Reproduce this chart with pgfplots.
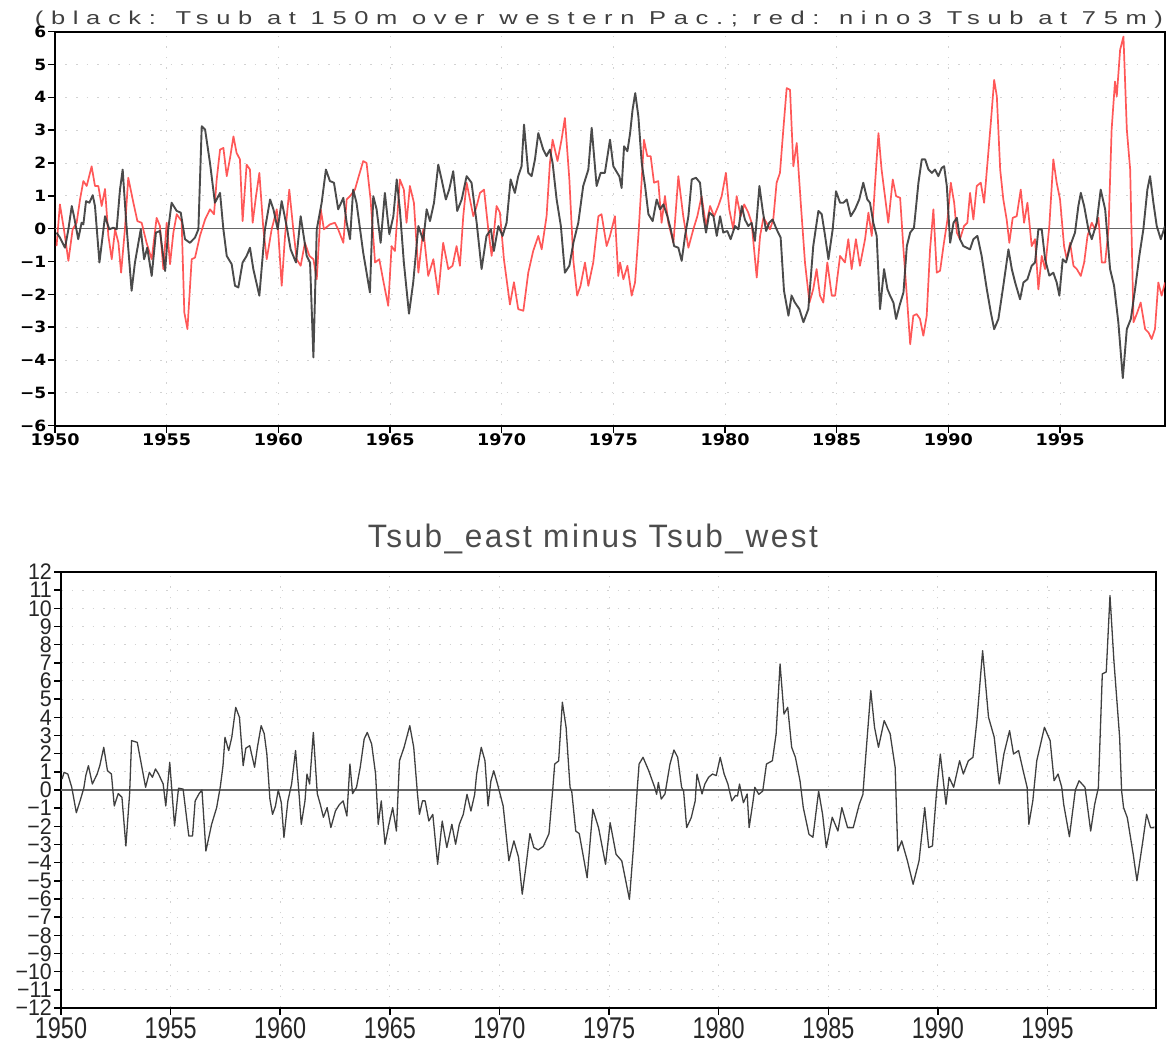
\documentclass[border=0pt]{standalone}
\usepackage{fontspec}
\usepackage{graphicx}
\usepackage{pgfplots}
\usepackage{pgfplotstable}
\pgfplotsset{compat=1.18}
\setmainfont{Liberation Sans}
\newfontfamily\tickfont{DejaVu Sans}
\newfontfamily\spaced[LetterSpace=30]{Liberation Sans}
\newfontfamily\spacedb[LetterSpace=8]{Liberation Sans}
\definecolor{tred}{RGB}{255,70,70}
\definecolor{tblk}{RGB}{55,55,55}
\newcommand\tl[1]{\scalebox{1.1}[1]{\tickfont\bfseries #1}}
\newcommand\bl[1]{\scalebox{0.78}[1]{#1}}
\newcommand\yl[1]{\scalebox{0.95}[1]{#1}}

\pgfplotstableread{
x y
1950.07 -0.12
1950.22 -0.27
1950.45 -0.58
1950.60 -0.02
1950.75 0.69
1950.85 0.38
1951.04 -0.32
1951.19 0.18
1951.27 0.13
1951.39 0.84
1951.54 0.79
1951.69 1.02
1951.79 0.69
1951.99 -1.03
1952.24 0.38
1952.43 -0.02
1952.61 0.03
1952.76 -0.02
1952.91 1.19
1953.03 1.80
1953.18 0.28
1953.43 -1.89
1953.58 -1.03
1953.84 -0.02
1953.99 -0.93
1954.13 -0.58
1954.33 -1.44
1954.52 -0.12
1954.70 -0.07
1954.93 -1.29
1955.07 -0.02
1955.22 0.79
1955.45 0.54
1955.63 0.49
1955.82 -0.32
1956.04 -0.43
1956.27 -0.27
1956.42 -0.02
1956.57 3.12
1956.72 3.02
1956.94 2.00
1957.16 0.79
1957.39 1.09
1957.54 -0.02
1957.69 -0.83
1957.91 -1.08
1958.06 -1.74
1958.21 -1.79
1958.40 -1.03
1958.58 -0.83
1958.73 -0.58
1958.88 -1.23
1959.15 -2.04
1959.40 -0.02
1959.63 0.89
1959.78 0.59
1959.97 -0.02
1960.15 0.84
1960.37 0.08
1960.55 -0.63
1960.79 -1.03
1961.00 0.38
1961.27 -0.83
1961.42 -1.03
1961.57 -3.92
1961.72 -0.02
1961.94 0.79
1962.13 1.80
1962.31 1.45
1962.49 1.40
1962.68 0.59
1962.91 0.94
1963.06 0.18
1963.21 -0.32
1963.35 1.19
1963.50 0.79
1963.80 -0.73
1964.10 -1.94
1964.25 0.99
1964.40 0.59
1964.58 -0.43
1964.77 1.09
1964.97 -0.17
1965.15 0.38
1965.30 1.50
1965.44 0.59
1965.62 -1.03
1965.85 -2.59
1966.04 -1.63
1966.27 0.08
1966.49 -0.37
1966.64 0.59
1966.79 0.23
1966.97 0.79
1967.16 1.95
1967.31 1.50
1967.50 0.89
1967.65 1.19
1967.83 1.75
1968.01 0.54
1968.21 0.89
1968.43 1.60
1968.65 1.40
1968.88 0.18
1969.10 -1.23
1969.32 -0.22
1969.52 -0.02
1969.65 -0.68
1969.85 0.08
1970.04 -0.22
1970.22 0.18
1970.40 1.50
1970.59 1.09
1970.74 1.60
1970.89 1.90
1971.00 3.17
1971.19 1.70
1971.34 1.60
1971.49 2.11
1971.64 2.91
1971.86 2.41
1972.01 2.21
1972.16 2.41
1972.28 2.00
1972.46 0.89
1972.65 0.08
1972.83 -1.34
1973.03 -1.13
1973.21 -0.43
1973.43 0.18
1973.65 1.30
1973.88 1.80
1974.03 3.07
1974.25 1.30
1974.43 1.70
1974.62 1.70
1974.85 2.71
1975.00 1.90
1975.27 1.59
1975.37 1.24
1975.48 2.51
1975.63 2.36
1975.75 2.91
1975.86 3.62
1975.98 4.13
1976.12 3.42
1976.27 2.00
1976.42 1.30
1976.57 0.44
1976.76 0.23
1976.94 0.89
1977.09 0.59
1977.24 0.74
1977.42 0.38
1977.57 -0.02
1977.72 -0.53
1977.91 -0.58
1978.06 -0.98
1978.21 -0.22
1978.36 0.38
1978.51 1.50
1978.70 1.55
1978.88 1.40
1979.03 0.38
1979.15 -0.12
1979.30 0.49
1979.48 0.38
1979.63 -0.22
1979.78 0.38
1979.92 -0.12
1980.10 -0.07
1980.25 -0.32
1980.45 0.08
1980.60 -0.02
1980.75 0.69
1980.89 0.28
1981.04 0.08
1981.19 0.18
1981.34 -0.37
1981.54 1.30
1981.69 0.54
1981.84 -0.07
1981.98 0.18
1982.13 0.28
1982.31 -0.02
1982.49 -0.27
1982.64 -1.89
1982.84 -2.65
1982.98 -2.04
1983.13 -2.25
1983.33 -2.45
1983.51 -2.85
1983.73 -2.45
1983.95 -0.53
1984.18 0.54
1984.33 0.44
1984.48 -0.22
1984.63 -0.93
1984.82 -0.02
1984.97 1.14
1985.15 0.79
1985.30 0.79
1985.45 0.89
1985.63 0.38
1985.82 0.59
1986.01 0.89
1986.19 1.40
1986.37 0.89
1986.49 0.79
1986.64 0.18
1986.79 -0.22
1986.94 -2.45
1987.12 -1.23
1987.27 -1.84
1987.39 -2.04
1987.54 -2.25
1987.66 -2.75
1987.81 -2.35
1987.99 -1.94
1988.14 -0.53
1988.29 -0.12
1988.46 0.03
1988.66 1.40
1988.81 2.11
1988.96 2.11
1989.11 1.80
1989.26 1.70
1989.40 1.80
1989.55 1.60
1989.70 1.85
1989.81 1.90
1989.93 1.30
1990.08 -0.43
1990.23 0.18
1990.38 0.33
1990.52 -0.32
1990.67 -0.53
1990.82 -0.58
1990.97 -0.63
1991.12 -0.32
1991.30 -0.22
1991.49 -0.83
1991.72 -1.84
1991.90 -2.55
1992.05 -3.06
1992.24 -2.75
1992.46 -1.74
1992.69 -0.63
1992.84 -1.23
1992.99 -1.64
1993.21 -2.15
1993.36 -1.64
1993.54 -1.54
1993.73 -1.13
1993.88 -1.03
1994.03 -0.02
1994.18 -0.02
1994.33 -0.93
1994.52 -1.43
1994.70 -1.34
1994.85 -1.64
1994.97 -2.04
1995.12 -0.93
1995.27 -1.03
1995.45 -0.53
1995.67 -0.12
1995.82 0.69
1995.93 1.09
1996.08 0.69
1996.27 -0.02
1996.42 -0.32
1996.64 0.18
1996.82 1.19
1997.02 0.59
1997.24 -1.23
1997.42 -1.74
1997.61 -2.85
1997.81 -4.55
1997.99 -3.06
1998.17 -2.75
1998.36 -1.84
1998.55 -0.83
1998.73 -0.02
1998.91 1.19
1999.03 1.60
1999.18 0.79
1999.33 0.08
1999.51 -0.32
1999.70 0.08
}\blktop

\pgfplotstableread{
x y
1950.07 -0.53
1950.22 0.74
1950.40 -0.02
1950.60 -0.98
1950.79 -0.02
1950.97 0.18
1951.12 0.89
1951.27 1.45
1951.42 1.30
1951.64 1.90
1951.79 1.30
1951.94 1.30
1952.09 0.69
1952.24 1.21
1952.39 -0.22
1952.54 -0.93
1952.69 -0.02
1952.84 -0.43
1952.96 -1.34
1953.13 -0.02
1953.28 1.55
1953.51 0.79
1953.69 0.23
1953.88 0.18
1954.10 -0.43
1954.33 -0.93
1954.55 0.33
1954.70 0.08
1954.85 -1.23
1955.00 0.18
1955.15 -1.08
1955.30 -0.12
1955.45 0.44
1955.67 0.23
1955.79 -2.55
1955.93 -3.06
1956.12 -0.93
1956.27 -0.88
1956.49 -0.22
1956.72 0.28
1956.94 0.59
1957.12 0.44
1957.24 1.50
1957.39 2.41
1957.54 2.46
1957.69 1.60
1957.84 2.16
1957.99 2.81
1958.13 2.31
1958.28 2.11
1958.40 0.23
1958.58 1.95
1958.73 1.80
1958.85 0.18
1959.00 0.99
1959.15 1.70
1959.33 -0.02
1959.48 -0.93
1959.70 -0.02
1959.93 0.59
1960.15 -1.74
1960.30 -0.22
1960.49 1.19
1960.67 -0.02
1960.82 -0.93
1961.00 -1.13
1961.19 -0.43
1961.39 -0.83
1961.57 -0.93
1961.72 -1.54
1961.90 0.59
1962.04 -0.02
1962.31 0.13
1962.53 0.18
1962.68 -0.02
1962.91 -0.43
1963.06 0.89
1963.21 0.99
1963.43 1.19
1963.58 1.55
1963.80 2.06
1963.95 2.00
1964.13 0.89
1964.33 -1.03
1964.52 -0.93
1964.70 -1.59
1964.92 -2.35
1965.07 -0.53
1965.22 -0.68
1965.44 1.50
1965.62 1.19
1965.74 0.18
1965.89 1.30
1966.07 0.79
1966.27 -1.34
1966.49 -0.02
1966.71 -1.44
1966.94 -0.93
1967.16 -2.00
1967.38 -0.43
1967.61 -1.23
1967.80 -1.13
1967.98 -0.53
1968.13 -1.13
1968.28 0.38
1968.43 1.40
1968.58 0.89
1968.73 0.38
1968.88 0.69
1969.03 1.09
1969.21 1.19
1969.40 -0.02
1969.55 -0.83
1969.77 0.69
1969.92 0.49
1970.10 -0.93
1970.37 -2.31
1970.55 -1.63
1970.74 -2.45
1970.97 -2.50
1971.19 -1.34
1971.41 -0.68
1971.64 -0.22
1971.79 -0.63
1972.01 0.38
1972.16 2.00
1972.28 2.71
1972.50 2.06
1972.68 2.71
1972.83 3.37
1973.03 1.50
1973.21 -0.98
1973.38 -2.04
1973.53 -1.74
1973.73 -1.03
1973.88 -1.74
1974.10 -1.03
1974.33 0.38
1974.47 0.44
1974.70 -0.53
1974.85 -0.22
1975.07 0.38
1975.22 -1.44
1975.30 -1.03
1975.45 -1.54
1975.63 -1.13
1975.82 -2.04
1975.97 -1.64
1976.12 -0.22
1976.27 1.50
1976.37 2.71
1976.52 2.21
1976.67 2.21
1976.82 1.40
1977.01 1.45
1977.16 0.18
1977.31 0.99
1977.46 0.18
1977.69 -0.43
1977.91 1.60
1978.13 0.38
1978.36 -0.58
1978.58 -0.02
1978.76 0.38
1978.95 0.99
1979.15 0.08
1979.33 0.69
1979.51 0.38
1979.70 0.69
1979.85 0.99
1980.04 1.70
1980.19 0.59
1980.37 -0.02
1980.52 0.99
1980.70 0.38
1980.86 0.74
1981.04 0.49
1981.19 0.18
1981.42 -1.49
1981.57 -0.22
1981.72 0.33
1981.86 0.18
1982.01 -0.02
1982.16 0.28
1982.31 1.40
1982.46 1.70
1982.61 3.02
1982.76 4.28
1982.91 4.23
1983.06 1.90
1983.21 2.61
1983.39 0.79
1983.58 -1.03
1983.78 -2.25
1983.95 -1.84
1984.10 -1.23
1984.25 -2.04
1984.40 -2.25
1984.58 -1.03
1984.78 -2.04
1984.93 -2.04
1985.15 -0.83
1985.37 -1.03
1985.52 -0.32
1985.67 -1.23
1985.86 -0.32
1986.04 -1.13
1986.27 -0.32
1986.42 0.49
1986.57 -0.22
1986.72 1.40
1986.87 2.91
1987.01 1.80
1987.16 0.99
1987.31 0.18
1987.51 1.50
1987.66 0.99
1987.84 0.94
1987.99 -0.63
1988.14 -2.04
1988.29 -3.52
1988.43 -2.65
1988.58 -2.60
1988.73 -2.75
1988.88 -3.26
1989.03 -2.65
1989.18 -0.63
1989.33 0.59
1989.48 -1.34
1989.63 -1.28
1989.78 -0.53
1989.96 0.28
1990.11 1.40
1990.26 0.79
1990.38 -0.12
1990.52 -0.32
1990.70 0.08
1990.85 0.18
1990.97 1.09
1991.12 0.28
1991.27 1.30
1991.45 1.40
1991.60 0.79
1991.75 2.00
1991.90 3.22
1992.05 4.53
1992.17 4.03
1992.32 1.80
1992.46 0.89
1992.61 0.28
1992.73 -0.43
1992.88 0.33
1993.06 0.38
1993.24 1.19
1993.39 0.18
1993.54 0.79
1993.73 -0.53
1993.88 -0.32
1994.03 -1.85
1994.18 -0.83
1994.33 -1.23
1994.52 0.08
1994.70 2.11
1994.85 1.40
1995.00 0.89
1995.18 -0.53
1995.30 -0.93
1995.45 -0.43
1995.60 -1.13
1995.75 -1.23
1995.93 -1.44
1996.08 -1.03
1996.23 -0.22
1996.42 0.18
1996.57 -0.02
1996.72 0.33
1996.87 -1.03
1997.02 -1.03
1997.17 -0.02
1997.31 3.02
1997.46 4.48
1997.54 4.03
1997.69 5.45
1997.84 5.85
1997.99 3.02
1998.14 1.80
1998.29 -2.85
1998.46 -2.55
1998.61 -2.25
1998.81 -3.06
1998.96 -3.16
1999.10 -3.36
1999.25 -3.06
1999.40 -1.64
1999.55 -2.04
1999.70 -1.64
}\redtop

\pgfplotstableread{
x y
1950.05 0.6
1950.14 0.97
1950.31 0.88
1950.49 0.15
1950.70 -1.25
1950.87 -0.6
1951.04 0.1
1951.13 0.79
1951.25 1.34
1951.43 0.33
1951.65 0.88
1951.77 1.34
1951.95 2.35
1952.12 1.06
1952.30 0.88
1952.43 -0.88
1952.61 -0.2
1952.78 -0.4
1952.96 -3.08
1953.13 -0.2
1953.22 2.72
1953.48 2.62
1953.69 1.25
1953.86 0.15
1954.03 0.97
1954.17 0.70
1954.31 1.16
1954.45 0.88
1954.66 0.33
1954.78 -0.88
1954.96 1.52
1955.18 -1.98
1955.36 0.1
1955.57 0.05
1955.83 -2.53
1956.00 -2.53
1956.12 -0.6
1956.30 -0.2
1956.43 0.0
1956.61 -3.36
1956.87 -1.89
1957.10 -0.97
1957.27 0.2
1957.39 1.34
1957.48 2.9
1957.65 2.17
1957.79 2.9
1957.97 4.55
1958.14 4.0
1958.31 1.34
1958.43 2.3
1958.61 2.44
1958.83 1.25
1958.96 2.35
1959.13 3.54
1959.27 3.1
1959.39 1.98
1959.53 -0.5
1959.65 -1.34
1959.78 -0.9
1959.91 0.0
1960.05 -0.7
1960.17 -2.62
1960.35 -0.6
1960.52 0.33
1960.70 2.17
1960.87 -0.4
1960.96 -1.89
1961.13 -0.6
1961.22 0.88
1961.34 0.33
1961.51 3.17
1961.69 -0.2
1961.83 -0.8
1961.97 -1.5
1962.14 -0.97
1962.31 -2.07
1962.52 -1.15
1962.70 -0.8
1962.87 -0.6
1963.04 -1.43
1963.18 1.43
1963.30 -0.2
1963.48 0.15
1963.65 1.25
1963.83 2.81
1963.97 3.17
1964.17 2.53
1964.35 0.88
1964.47 -1.9
1964.61 -0.6
1964.78 -2.99
1964.96 -1.89
1965.13 -0.97
1965.30 -2.26
1965.44 1.61
1965.65 2.35
1965.91 3.54
1966.09 2.35
1966.26 -0.2
1966.35 -1.34
1966.49 -0.6
1966.61 -0.6
1966.78 -1.71
1966.96 -1.34
1967.18 -4.09
1967.39 -1.71
1967.60 -3.17
1967.83 -1.89
1968.00 -2.99
1968.17 -1.89
1968.35 -1.34
1968.52 -0.24
1968.70 -1.16
1968.87 -0.24
1968.96 0.88
1969.17 2.35
1969.34 1.61
1969.48 -0.88
1969.61 0.5
1969.74 1.06
1969.91 0.33
1970.17 -0.88
1970.43 -3.9
1970.66 -2.8
1970.87 -3.7
1971.04 -5.74
1971.22 -4.1
1971.39 -2.4
1971.57 -3.17
1971.77 -3.3
1972.00 -3.1
1972.26 -2.4
1972.43 0.0
1972.52 1.43
1972.70 1.6
1972.87 4.83
1973.04 3.45
1973.22 0.15
1973.30 -0.1
1973.48 -2.26
1973.64 -2.4
1974.00 -4.83
1974.26 -1.06
1974.52 -2.07
1974.84 -4.09
1975.05 -1.8
1975.32 -3.54
1975.58 -3.9
1975.93 -6.02
1976.11 -3.2
1976.29 0.13
1976.37 1.43
1976.55 1.8
1976.81 1.06
1977.08 0.15
1977.17 -0.24
1977.25 0.42
1977.38 -0.5
1977.55 -0.22
1977.78 1.43
1977.96 2.2
1978.13 1.8
1978.31 0.15
1978.40 -0.06
1978.54 -2.07
1978.75 -1.52
1978.93 -0.6
1979.01 0.88
1979.24 -0.22
1979.37 0.33
1979.54 0.70
1979.72 0.88
1979.89 0.79
1980.07 1.8
1980.25 0.88
1980.42 0.33
1980.60 -0.6
1980.77 -0.3
1980.86 -0.33
1980.95 0.33
1981.13 -0.7
1981.30 -0.22
1981.39 -2.07
1981.57 -0.6
1981.65 0.15
1981.83 -0.24
1982.01 -0.06
1982.18 1.43
1982.45 1.61
1982.62 3.08
1982.80 6.94
1982.98 4.18
1983.15 4.55
1983.33 2.35
1983.50 1.8
1983.71 0.51
1983.86 -0.97
1984.12 -2.44
1984.30 -2.6
1984.56 -0.06
1984.74 -1.34
1984.91 -3.17
1985.18 -1.5
1985.44 -2.26
1985.62 -0.97
1985.88 -2.07
1986.14 -2.07
1986.41 -0.8
1986.58 -0.24
1986.67 1.25
1986.94 5.47
1987.11 3.45
1987.29 2.35
1987.55 3.82
1987.82 3.1
1988.05 1.25
1988.17 -3.36
1988.35 -2.8
1988.61 -3.9
1988.87 -5.19
1989.14 -3.9
1989.40 -0.97
1989.58 -3.17
1989.75 -3.08
1989.93 -0.24
1990.11 1.98
1990.28 0.15
1990.37 -0.8
1990.51 0.70
1990.72 0.15
1990.99 1.61
1991.16 0.88
1991.39 1.61
1991.60 1.8
1991.78 3.82
1992.04 7.67
1992.31 4.0
1992.57 2.9
1992.80 0.33
1993.01 1.98
1993.27 3.27
1993.45 1.98
1993.68 2.17
1993.89 1.06
1994.07 0.15
1994.15 -1.89
1994.33 -0.6
1994.51 1.61
1994.86 3.45
1995.12 2.72
1995.30 0.51
1995.48 0.88
1995.65 0.15
1995.74 -0.8
1996.00 -2.57
1996.27 0.0
1996.44 0.51
1996.71 0.15
1996.97 -2.26
1997.15 -0.8
1997.32 0.13
1997.50 6.39
1997.68 6.5
1997.85 10.7
1998.03 7.1
1998.29 2.9
1998.38 -0.04
1998.47 -0.97
1998.64 -1.52
1998.91 -3.54
1999.08 -5.0
1999.35 -2.8
1999.52 -1.34
1999.70 -2.07
1999.88 -2.07
}\diff

\begin{document}
\begin{tikzpicture}[x=1pt,y=1pt]
\path[use as bounding box] (0,0) rectangle (1166,1048);

% top title
\node[anchor=base, inner sep=0pt, text=black!75] at (599,1023)
  {\resizebox{1128pt}{13.5pt}{\spaced (black: Tsub at 150m over western Pac.; red: nino3 Tsub at 75m)}};

\begin{axis}[
  at={(55pt,622.3pt)}, anchor=south west, scale only axis,
  width=1110pt, height=394pt,
  xmin=1950, xmax=1999.7, ymin=-6, ymax=6,
  xtick={1950,1955,1960,1965,1970,1975,1980,1985,1990,1995},
  xticklabels={\tl{1950},\tl{1955},\tl{1960},\tl{1965},\tl{1970},\tl{1975},\tl{1980},\tl{1985},\tl{1990},\tl{1995}},
  ytick={-6,-5,-4,-3,-2,-1,0,1,2,3,4,5,6},
  yticklabels={\tl{−6},\tl{−5},\tl{−4},\tl{−3},\tl{−2},\tl{−1},\tl{0},\tl{1},\tl{2},\tl{3},\tl{4},\tl{5},\tl{6}},
  tick align=outside, xtick pos=left, ytick pos=left,
  major tick length=7pt,
  tick style={black, line width=1.5pt},
  axis line style={line width=2.2pt},
  grid=major, grid style={gray!35, dash pattern=on 1.5pt off 9pt, line width=1pt},
  xticklabel style={font=\fontsize{16}{18}\selectfont, inner sep=1pt},
  yticklabel style={font=\fontsize{15.5}{17}\selectfont, inner sep=1.5pt},
]
\addplot[gray!80!black, line width=1.5pt, forget plot] coordinates {(1950,0) (2000,0)};
\addplot[tred, line width=1.7pt, line join=round, opacity=0.9] table {\redtop};
\addplot[tblk, line width=1.9pt, line join=round, opacity=0.9] table {\blktop};
\end{axis}

% bottom title
\node[anchor=base, inner sep=0pt, text=black!70] at (593,500)
  {\resizebox{450pt}{23.5pt}{\spacedb Tsub\_east minus Tsub\_west}};

\begin{axis}[
  at={(61pt,40pt)}, anchor=south west, scale only axis,
  width=1095pt, height=436pt,
  xmin=1950, xmax=1999.95, ymin=-12, ymax=12,
  xtick={1950,1955,1960,1965,1970,1975,1980,1985,1990,1995},
  xticklabels={\bl{1950},\bl{1955},\bl{1960},\bl{1965},\bl{1970},\bl{1975},\bl{1980},\bl{1985},\bl{1990},\bl{1995}},
  ytick={-12,-11,-10,-9,-8,-7,-6,-5,-4,-3,-2,-1,0,1,2,3,4,5,6,7,8,9,10,11,12},
  yticklabels={\yl{−12},\yl{−11},\yl{−10},\yl{−9},\yl{−8},\yl{−7},\yl{−6},\yl{−5},\yl{−4},\yl{−3},\yl{−2},\yl{−1},\yl{0},\yl{1},\yl{2},\yl{3},\yl{4},\yl{5},\yl{6},\yl{7},\yl{8},\yl{9},\yl{10},\yl{11},\yl{12}},
  tick align=outside, xtick pos=left, ytick pos=left,
  major tick length=7pt,
  tick style={black, line width=1.5pt},
  axis line style={line width=2.6pt},
  grid=major, grid style={gray!35, dash pattern=on 1.5pt off 9pt, line width=1pt},
  xticklabel style={font=\fontsize{30}{32}\selectfont, inner sep=2pt, text=black!85},
  yticklabel style={font=\fontsize{22.5}{24}\selectfont, inner sep=0pt, xshift=-2pt, text=black!85},
]
\addplot[gray!80!black, line width=1.5pt, forget plot] coordinates {(1950,0) (2000,0)};
\addplot[black!75, line width=1.3pt, line join=round] table {\diff};
\end{axis}
\end{tikzpicture}
\end{document}
